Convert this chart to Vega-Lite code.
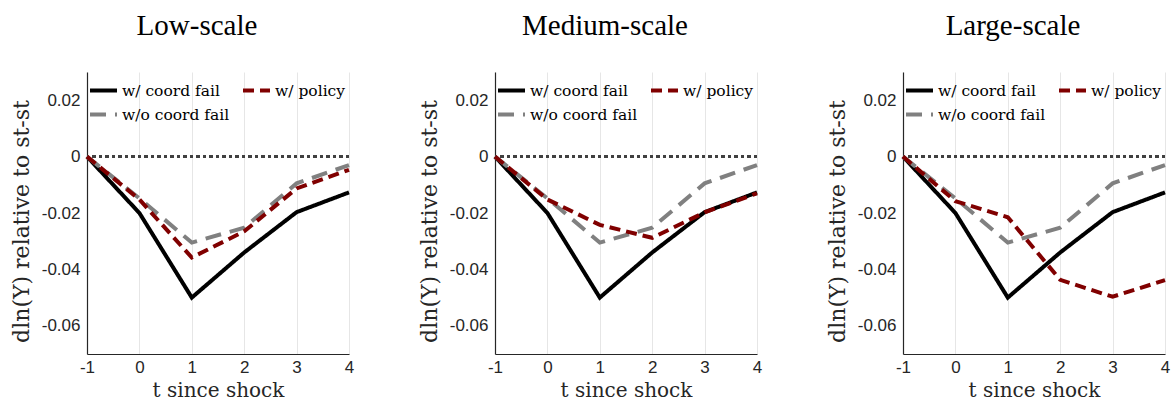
{
  "$schema": "https://vega.github.io/schema/vega-lite/v6.json",
  "padding": {"left": 10, "top": 12, "right": 5, "bottom": 0},
  "background": "white",
  "datasets": {
    "d": [
      {"p": "Low", "s": "w/ coord fail", "t": -1, "y": 0},
      {"p": "Low", "s": "w/ coord fail", "t": 0, "y": -0.02},
      {"p": "Low", "s": "w/ coord fail", "t": 1, "y": -0.05},
      {"p": "Low", "s": "w/ coord fail", "t": 2, "y": -0.034},
      {"p": "Low", "s": "w/ coord fail", "t": 3, "y": -0.0197},
      {"p": "Low", "s": "w/ coord fail", "t": 4, "y": -0.0127},
      {"p": "Low", "s": "w/o coord fail", "t": -1, "y": 0},
      {"p": "Low", "s": "w/o coord fail", "t": 0, "y": -0.0148},
      {"p": "Low", "s": "w/o coord fail", "t": 1, "y": -0.0305},
      {"p": "Low", "s": "w/o coord fail", "t": 2, "y": -0.0252},
      {"p": "Low", "s": "w/o coord fail", "t": 3, "y": -0.0095},
      {"p": "Low", "s": "w/o coord fail", "t": 4, "y": -0.003},
      {"p": "Low", "s": "w/ policy", "t": -1, "y": 0},
      {"p": "Low", "s": "w/ policy", "t": 0, "y": -0.0152},
      {"p": "Low", "s": "w/ policy", "t": 1, "y": -0.0358},
      {"p": "Low", "s": "w/ policy", "t": 2, "y": -0.0265},
      {"p": "Low", "s": "w/ policy", "t": 3, "y": -0.0113},
      {"p": "Low", "s": "w/ policy", "t": 4, "y": -0.0047},
      {"p": "Medium", "s": "w/ coord fail", "t": -1, "y": 0},
      {"p": "Medium", "s": "w/ coord fail", "t": 0, "y": -0.02},
      {"p": "Medium", "s": "w/ coord fail", "t": 1, "y": -0.05},
      {"p": "Medium", "s": "w/ coord fail", "t": 2, "y": -0.034},
      {"p": "Medium", "s": "w/ coord fail", "t": 3, "y": -0.0197},
      {"p": "Medium", "s": "w/ coord fail", "t": 4, "y": -0.0127},
      {"p": "Medium", "s": "w/o coord fail", "t": -1, "y": 0},
      {"p": "Medium", "s": "w/o coord fail", "t": 0, "y": -0.0148},
      {"p": "Medium", "s": "w/o coord fail", "t": 1, "y": -0.0305},
      {"p": "Medium", "s": "w/o coord fail", "t": 2, "y": -0.0252},
      {"p": "Medium", "s": "w/o coord fail", "t": 3, "y": -0.0095},
      {"p": "Medium", "s": "w/o coord fail", "t": 4, "y": -0.003},
      {"p": "Medium", "s": "w/ policy", "t": -1, "y": 0},
      {"p": "Medium", "s": "w/ policy", "t": 0, "y": -0.0152},
      {"p": "Medium", "s": "w/ policy", "t": 1, "y": -0.0242},
      {"p": "Medium", "s": "w/ policy", "t": 2, "y": -0.0288},
      {"p": "Medium", "s": "w/ policy", "t": 3, "y": -0.0198},
      {"p": "Medium", "s": "w/ policy", "t": 4, "y": -0.013},
      {"p": "Large", "s": "w/ coord fail", "t": -1, "y": 0},
      {"p": "Large", "s": "w/ coord fail", "t": 0, "y": -0.02},
      {"p": "Large", "s": "w/ coord fail", "t": 1, "y": -0.05},
      {"p": "Large", "s": "w/ coord fail", "t": 2, "y": -0.034},
      {"p": "Large", "s": "w/ coord fail", "t": 3, "y": -0.0197},
      {"p": "Large", "s": "w/ coord fail", "t": 4, "y": -0.0127},
      {"p": "Large", "s": "w/o coord fail", "t": -1, "y": 0},
      {"p": "Large", "s": "w/o coord fail", "t": 0, "y": -0.0148},
      {"p": "Large", "s": "w/o coord fail", "t": 1, "y": -0.0305},
      {"p": "Large", "s": "w/o coord fail", "t": 2, "y": -0.0252},
      {"p": "Large", "s": "w/o coord fail", "t": 3, "y": -0.0095},
      {"p": "Large", "s": "w/o coord fail", "t": 4, "y": -0.003},
      {"p": "Large", "s": "w/ policy", "t": -1, "y": 0},
      {"p": "Large", "s": "w/ policy", "t": 0, "y": -0.0158},
      {"p": "Large", "s": "w/ policy", "t": 1, "y": -0.0215},
      {"p": "Large", "s": "w/ policy", "t": 2, "y": -0.0437},
      {"p": "Large", "s": "w/ policy", "t": 3, "y": -0.0497},
      {"p": "Large", "s": "w/ policy", "t": 4, "y": -0.0438}
    ]
  },
  "data": {"name": "d"},
  "bounds": "flush",
  "spacing": 146,
  "resolve": {"legend": {"color": "independent", "strokeDash": "independent"}},
  "hconcat": [
    {
      "width": 262, "height": 282,
      "title": {"text": "Low-scale"},
      "transform": [{"filter": "datum.p == 'Low'"}],
      "layer": [
        {"mark": {"type": "rule", "strokeDash": [3, 3.5], "strokeWidth": 2.5, "color": "#404040"}, "encoding": {"y": {"datum": 0}}},
        {"mark": {"type": "line", "strokeWidth": 4, "strokeCap": "butt"},
         "encoding": {
           "x": {"field": "t", "type": "quantitative", "scale": {"domain": [-1, 4], "nice": false}, "axis": {"title": "t since shock", "values": [-1, 0, 1, 2, 3, 4]}},
           "y": {"field": "y", "type": "quantitative", "scale": {"domain": [-0.07, 0.03], "nice": false}, "axis": {"title": "dln(Y) relative to st-st", "values": [-0.06, -0.04, -0.02, 0, 0.02]}},
           "color": {"field": "s", "type": "nominal", "scale": {"domain": ["w/ coord fail", "w/ policy", "w/o coord fail"], "range": ["#000000", "#800000", "#808080"]}, "legend": {"title": null, "labelFont": "DejaVu Serif", "labelFontSize": 15.5}},
           "strokeDash": {"field": "s", "type": "nominal", "scale": {"domain": ["w/ coord fail", "w/ policy", "w/o coord fail"], "range": [[1, 0], [11, 6], [16, 9]]}, "legend": {"title": null, "labelFont": "DejaVu Serif", "labelFontSize": 15.5}},
           "order": {"field": "t", "type": "quantitative"}
         }}
      ]
    },
    {
      "width": 262, "height": 282,
      "title": {"text": "Medium-scale"},
      "transform": [{"filter": "datum.p == 'Medium'"}],
      "layer": [
        {"mark": {"type": "rule", "strokeDash": [3, 3.5], "strokeWidth": 2.5, "color": "#404040"}, "encoding": {"y": {"datum": 0}}},
        {"mark": {"type": "line", "strokeWidth": 4, "strokeCap": "butt"},
         "encoding": {
           "x": {"field": "t", "type": "quantitative", "scale": {"domain": [-1, 4], "nice": false}, "axis": {"title": "t since shock", "values": [-1, 0, 1, 2, 3, 4]}},
           "y": {"field": "y", "type": "quantitative", "scale": {"domain": [-0.07, 0.03], "nice": false}, "axis": {"title": "dln(Y) relative to st-st", "values": [-0.06, -0.04, -0.02, 0, 0.02]}},
           "color": {"field": "s", "type": "nominal", "scale": {"domain": ["w/ coord fail", "w/ policy", "w/o coord fail"], "range": ["#000000", "#800000", "#808080"]}, "legend": {"title": null, "labelFont": "DejaVu Serif", "labelFontSize": 15.5}},
           "strokeDash": {"field": "s", "type": "nominal", "scale": {"domain": ["w/ coord fail", "w/ policy", "w/o coord fail"], "range": [[1, 0], [11, 6], [16, 9]]}, "legend": {"title": null, "labelFont": "DejaVu Serif", "labelFontSize": 15.5}},
           "order": {"field": "t", "type": "quantitative"}
         }}
      ]
    },
    {
      "width": 262, "height": 282,
      "title": {"text": "Large-scale"},
      "transform": [{"filter": "datum.p == 'Large'"}],
      "layer": [
        {"mark": {"type": "rule", "strokeDash": [3, 3.5], "strokeWidth": 2.5, "color": "#404040"}, "encoding": {"y": {"datum": 0}}},
        {"mark": {"type": "line", "strokeWidth": 4, "strokeCap": "butt"},
         "encoding": {
           "x": {"field": "t", "type": "quantitative", "scale": {"domain": [-1, 4], "nice": false}, "axis": {"title": "t since shock", "values": [-1, 0, 1, 2, 3, 4]}},
           "y": {"field": "y", "type": "quantitative", "scale": {"domain": [-0.07, 0.03], "nice": false}, "axis": {"title": "dln(Y) relative to st-st", "values": [-0.06, -0.04, -0.02, 0, 0.02]}},
           "color": {"field": "s", "type": "nominal", "scale": {"domain": ["w/ coord fail", "w/ policy", "w/o coord fail"], "range": ["#000000", "#800000", "#808080"]}, "legend": {"title": null, "labelFont": "DejaVu Serif", "labelFontSize": 15.5}},
           "strokeDash": {"field": "s", "type": "nominal", "scale": {"domain": ["w/ coord fail", "w/ policy", "w/o coord fail"], "range": [[1, 0], [11, 6], [16, 9]]}, "legend": {"title": null, "labelFont": "DejaVu Serif", "labelFontSize": 15.5}},
           "order": {"field": "t", "type": "quantitative"}
         }}
      ]
    }
  ],
  "config": {
    "view": {"stroke": null},
    "title": {"font": "Liberation Serif", "fontSize": 29, "fontWeight": "normal", "color": "#000000", "anchor": "middle", "dx": -21, "baseline": "alphabetic", "offset": 31},
    "axis": {
      "labelFont": "Liberation Sans", "labelFontSize": 17, "labelColor": "#262626",
      "titleFont": "DejaVu Serif", "titleFontSize": 20, "titleFontWeight": "normal", "titleColor": "#262626",
      "gridColor": "#e6e6e6", "gridWidth": 1,
      "domainColor": "#262626", "domainWidth": 1.2,
      "ticks": false, "labelPadding": 7,
      "labelExpr": "'' + datum.value"
    },
    "axisY": {"titlePadding": 8, "titleFontSize": 22, "titleY": 149},
    "axisX": {"titlePadding": 5, "labelPadding": 5, "labelFlush": false},
    "legend": {
      "orient": "none", "legendX": 1, "legendY": 3, "direction": "horizontal", "columns": 2,
      "symbolType": "stroke", "symbolSize": 729, "symbolStrokeWidth": 4,
      "labelFont": "DejaVu Serif", "labelFontSize": 15.5, "labelColor": "#000000", "labelOffset": 3,
      "columnPadding": 5, "rowPadding": -4, "padding": 0, "fillColor": "transparent"
    }
  }
}
